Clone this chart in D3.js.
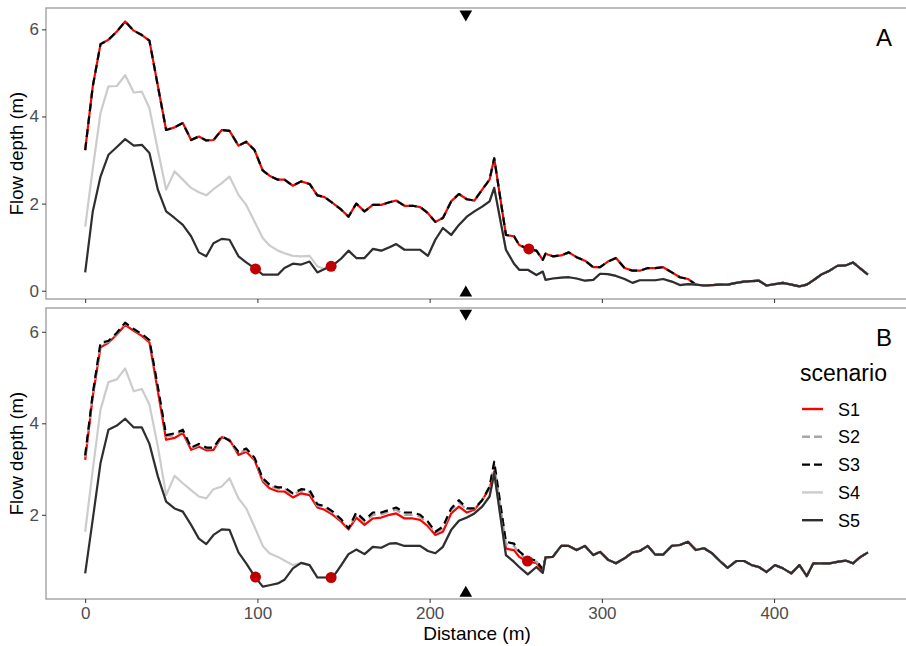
<!DOCTYPE html>
<html>
<head>
<meta charset="utf-8">
<script src="https://cdn.jsdelivr.net/npm/d3@7"></script>
<style>
  body { margin: 0; background: #fff; }
  svg text { font-family: "Liberation Sans", Arial, sans-serif; }
</style>
</head>
<body>
<div id="chart"></div>
<script>
// distance along the profile (m), shared by every series
const dist = [
  0, 4.4, 8.9, 13.5, 18.4, 23.2, 28.2, 32.9, 37.3, 42.2,
  47, 51.9, 56.7, 61.5, 66, 70.3, 74.5, 79.3, 83.8, 89,
  93.5, 98.3, 103.1, 107, 111.9, 115.7, 120.6, 125.4, 130.3, 134.8,
  139, 143.8, 148.7, 152.9, 157.4, 162.2, 167, 171.9, 176.7, 180.6,
  185.4, 190.2, 194.5, 199, 203.3, 207.7, 212.5, 217, 221.6, 226,
  230.5, 234.8, 237.5, 244.3, 249, 252, 257, 262, 265.7, 267.3,
  271.5, 276.4, 280.8, 285.3, 290.2, 295, 299, 303.5, 308.2, 313.2,
  317.8, 322, 326.7, 331, 335.6, 340.6, 345.3, 350, 354.6, 359.3,
  364, 368.5, 373, 378, 382.6, 387, 391.2, 395.6, 400.5, 405.1,
  410, 414.7, 419, 422.8, 427.4, 432.2, 436.7, 441.5, 445.8, 449.8,
  454.5
];

// Panel A
const aS1 = [
  3.23, 4.69, 5.66, 5.76, 5.95, 6.18, 5.97, 5.87, 5.74, 4.70,
  3.69, 3.75, 3.85, 3.46, 3.54, 3.45, 3.46, 3.69, 3.67, 3.33,
  3.42, 3.23, 2.76, 2.64, 2.55, 2.55, 2.41, 2.51, 2.45, 2.19,
  2.15, 2.01, 1.86, 1.70, 2.00, 1.82, 1.97, 1.97, 2.03, 2.07,
  1.95, 1.95, 1.92, 1.78, 1.58, 1.67, 2.05, 2.22, 2.10, 2.07,
  2.32, 2.55, 3.04, 1.28, 1.25, 1.05, 0.96, 0.92, 0.71, 0.85,
  0.79, 0.81, 0.88, 0.77, 0.69, 0.54, 0.54, 0.67, 0.75, 0.52,
  0.46, 0.46, 0.52, 0.52, 0.54, 0.42, 0.31, 0.27, 0.14, 0.12,
  0.13, 0.14, 0.14, 0.18, 0.21, 0.22, 0.23, 0.12, 0.15, 0.18,
  0.14, 0.10, 0.14, 0.24, 0.37, 0.46, 0.57, 0.58, 0.65, 0.52,
  0.37
];
const aS5 = [
  0.42, 1.82, 2.62, 3.12, 3.30, 3.48, 3.33, 3.35, 3.16, 2.32,
  1.82, 1.67, 1.51, 1.25, 0.88, 0.79, 1.09, 1.19, 1.17, 0.79,
  0.65, 0.52, 0.37, 0.37, 0.37, 0.52, 0.62, 0.60, 0.67, 0.42,
  0.50, 0.58, 0.74, 0.92, 0.75, 0.75, 0.96, 0.92, 1.00, 1.07,
  0.94, 0.94, 0.94, 0.80, 1.17, 1.44, 1.28, 1.51, 1.70, 1.82,
  1.93, 2.05, 2.36, 0.94, 0.62, 0.48, 0.48, 0.36, 0.44, 0.25,
  0.28, 0.30, 0.31, 0.28, 0.23, 0.25, 0.39, 0.38, 0.34, 0.27,
  0.18, 0.24, 0.24, 0.24, 0.27, 0.21, 0.13, 0.15, 0.14, 0.12,
  0.13, 0.14, 0.14, 0.18, 0.21, 0.22, 0.23, 0.12, 0.15, 0.18,
  0.14, 0.10, 0.14, 0.24, 0.37, 0.46, 0.57, 0.58, 0.65, 0.52,
  0.37
];
// S4 differs from S5 only over the first 30 stations
const aS4Head = [
  1.47, 2.80, 4.08, 4.69, 4.70, 4.95, 4.55, 4.57, 4.19, 3.23,
  2.32, 2.74, 2.55, 2.36, 2.26, 2.19, 2.33, 2.47, 2.62, 2.20,
  1.97, 1.59, 1.21, 1.04, 0.92, 0.86, 0.80, 0.79, 0.80, 0.56
];

// Panel B (S1-S4 join S5 after the listed heads)
const bS1Head = [
  3.20, 4.59, 5.66, 5.76, 5.94, 6.15, 6.02, 5.91, 5.77, 4.70,
  3.64, 3.68, 3.79, 3.42, 3.49, 3.41, 3.42, 3.70, 3.64, 3.31,
  3.38, 3.20, 2.73, 2.58, 2.51, 2.51, 2.38, 2.47, 2.43, 2.16,
  2.11, 2.00, 1.85, 1.68, 1.94, 1.78, 1.92, 1.94, 2.00, 2.03,
  1.92, 1.92, 1.89, 1.75, 1.56, 1.63, 2.03, 2.18, 2.05, 2.11,
  2.32, 2.58, 2.95, 1.26, 1.23, 1.08, 0.97, 0.95, 0.76, 1.07
];
const bS2Head = [
  3.26, 4.62, 5.72, 5.78, 5.96, 6.18, 6.05, 5.94, 5.80, 4.76,
  3.71, 3.74, 3.83, 3.45, 3.52, 3.45, 3.45, 3.72, 3.63, 3.35,
  3.42, 3.23, 2.77, 2.63, 2.57, 2.57, 2.44, 2.53, 2.50, 2.20,
  2.16, 2.04, 1.88, 1.69, 2.01, 1.84, 2.00, 2.01, 2.07, 2.11,
  2.00, 2.00, 1.96, 1.81, 1.60, 1.70, 2.10, 2.27, 2.11, 2.13,
  2.32, 2.60, 3.10, 1.36, 1.32, 1.15, 1.02, 0.98, 0.78, 1.07
];
const bS3Head = [
  3.30, 4.65, 5.76, 5.80, 5.98, 6.20, 6.06, 5.95, 5.82, 4.80,
  3.74, 3.78, 3.86, 3.47, 3.55, 3.47, 3.47, 3.72, 3.62, 3.38,
  3.45, 3.25, 2.80, 2.66, 2.60, 2.60, 2.47, 2.56, 2.54, 2.23,
  2.19, 2.07, 1.90, 1.70, 2.05, 1.88, 2.05, 2.05, 2.11, 2.16,
  2.05, 2.05, 2.00, 1.85, 1.63, 1.74, 2.14, 2.32, 2.14, 2.14,
  2.32, 2.62, 3.16, 1.41, 1.37, 1.20, 1.05, 1.00, 0.80, 1.07
];
const bS4Head = [
  1.63, 2.98, 4.30, 4.90, 4.96, 5.20, 4.70, 4.75, 4.41, 3.49,
  2.43, 2.85, 2.69, 2.54, 2.40, 2.36, 2.56, 2.62, 2.80, 2.36,
  2.14, 1.74, 1.32, 1.16, 1.08, 1.00, 0.90
];
const bS5 = [
  0.72, 1.90, 3.13, 3.86, 3.95, 4.10, 3.91, 3.91, 3.55, 2.84,
  2.29, 2.14, 2.07, 1.78, 1.48, 1.36, 1.56, 1.68, 1.67, 1.18,
  0.94, 0.66, 0.43, 0.46, 0.50, 0.58, 0.83, 0.95, 0.90, 0.63,
  0.63, 0.63, 0.90, 1.14, 1.24, 1.14, 1.30, 1.28, 1.37, 1.38,
  1.32, 1.32, 1.32, 1.21, 1.16, 1.30, 1.67, 1.87, 1.94, 2.03,
  2.18, 2.40, 2.91, 1.12, 0.97, 0.86, 0.70, 0.86, 0.73, 1.07,
  1.08, 1.32, 1.32, 1.23, 1.32, 1.12, 1.19, 1.02, 0.94, 1.05,
  1.18, 1.21, 1.32, 1.13, 1.13, 1.32, 1.34, 1.41, 1.23, 1.27,
  1.16, 0.99, 0.84, 0.99, 0.99, 0.90, 0.86, 0.75, 0.90, 0.83,
  0.72, 0.90, 0.66, 0.94, 0.94, 0.94, 0.97, 1.00, 0.94, 1.07,
  1.18
];

// red points and section markers
const aDotDist = [98.9, 142.8, 257.6];
const aDotDepth = [0.50, 0.56, 0.96];
const bDotDist = [98.9, 142.8, 256.8];
const bDotDepth = [0.64, 0.63, 0.99];
const markerDist = 221;

const scenarios = ["S1", "S2", "S3", "S4", "S5"];
const colors = ["#ff0000", "#a6a6a6", "#000000", "#cccccc", "#2e2e2e"];
const dashes = [null, "8,5", "8,5", null, null];
const xTicks = [0, 100, 200, 300, 400];

const withTail = (head, full) => head.concat(full.slice(head.length));

const panels = [
  {
    label: "A", top: 8, bottom: 299, domain: [-0.19, 6.49], yTicks: [0, 2, 4, 6],
    series: [aS1, aS1, aS1, withTail(aS4Head, aS5), aS5],
    dotX: aDotDist, dotY: aDotDepth, markUp: -0.05, markDown: 6.35
  },
  {
    label: "B", top: 308, bottom: 599, domain: [0.16, 6.52], yTicks: [2, 4, 6],
    series: [withTail(bS1Head, bS5), withTail(bS2Head, bS5), withTail(bS3Head, bS5),
             withTail(bS4Head, bS5), bS5],
    dotX: bDotDist, dotY: bDotDepth, markUp: 0.29, markDown: 6.40
  }
];

const width = 906, height = 646;
const left = 46, right = 908;

const svg = d3.select("#chart").append("svg")
  .attr("width", width).attr("height", height);

const x = d3.scaleLinear().domain([-22.75, 477.75]).range([left, right]);

panels.forEach((p, pi) => {
  const y = d3.scaleLinear().domain(p.domain).range([p.bottom, p.top]);
  const g = svg.append("g");

  const clipId = "clip" + pi;
  svg.append("clipPath").attr("id", clipId)
    .append("rect").attr("x", left).attr("y", p.top)
    .attr("width", right - left).attr("height", p.bottom - p.top);

  const plot = g.append("g").attr("clip-path", `url(#${clipId})`);

  const line = d3.line()
    .x((d, i) => x(dist[i]))
    .y(d => y(d));

  p.series.forEach((vals, si) => {
    plot.append("path")
      .datum(vals)
      .attr("d", line)
      .attr("fill", "none")
      .attr("stroke", colors[si])
      .attr("stroke-width", 2.2)
      .attr("stroke-linejoin", "round")
      .attr("stroke-dasharray", dashes[si]);
  });

  plot.selectAll("circle.dot")
    .data(p.dotX)
    .enter().append("circle")
    .attr("class", "dot")
    .attr("cx", d => x(d))
    .attr("cy", (d, i) => y(p.dotY[i]))
    .attr("r", 5.5)
    .attr("fill", "#c00000");

  // section markers
  const tri = d3.symbol().type(d3.symbolTriangle).size(70);
  plot.append("path").attr("d", tri)
    .attr("transform", `translate(${x(markerDist)},${y(p.markUp)})`)
    .attr("fill", "#000");
  plot.append("path").attr("d", tri)
    .attr("transform", `translate(${x(markerDist)},${y(p.markDown)}) rotate(180)`)
    .attr("fill", "#000");

  // border
  g.append("rect")
    .attr("x", left).attr("y", p.top)
    .attr("width", right - left).attr("height", p.bottom - p.top)
    .attr("fill", "none").attr("stroke", "#9a9a9a").attr("stroke-width", 1.3);

  // y axis
  const ya = g.append("g").attr("transform", `translate(${left},0)`)
    .call(d3.axisLeft(y).tickValues(p.yTicks).tickSize(4).tickPadding(3).tickFormat(d3.format("d")));
  ya.select(".domain").remove();
  ya.selectAll(".tick line").attr("stroke", "#333");
  ya.selectAll(".tick text").attr("fill", "#4d4d4d").style("font-size", "17px");

  // x axis
  const xa = g.append("g").attr("transform", `translate(0,${p.bottom})`)
    .call(d3.axisBottom(x).tickValues(xTicks).tickSize(4).tickPadding(4)
      .tickFormat(pi === panels.length - 1 ? d3.format("d") : () => ""));
  xa.select(".domain").remove();
  xa.selectAll(".tick line").attr("stroke", "#333");
  xa.selectAll(".tick text").attr("fill", "#4d4d4d").style("font-size", "17px");

  // panel tag
  g.append("text")
    .attr("x", 884).attr("y", p.top + 38)
    .attr("text-anchor", "middle")
    .style("font-size", "24px")
    .text(p.label);

  // y title
  g.append("text")
    .attr("transform", `translate(23,${(p.top + p.bottom) / 2}) rotate(-90)`)
    .attr("text-anchor", "middle")
    .style("font-size", "18.5px")
    .text("Flow depth (m)");
});

svg.append("text")
  .attr("x", (left + right) / 2).attr("y", 640)
  .attr("text-anchor", "middle")
  .style("font-size", "19px")
  .text("Distance (m)");

// legend
const legend = svg.append("g").attr("transform", "translate(800,0)");
legend.append("text").attr("x", 0).attr("y", 381)
  .style("font-size", "23px").text("scenario");
scenarios.forEach((s, i) => {
  const yy = 409 + i * 27.8;
  legend.append("line")
    .attr("x1", 2).attr("x2", 23).attr("y1", yy).attr("y2", yy)
    .attr("stroke", colors[i]).attr("stroke-width", 2.4)
    .attr("stroke-dasharray", dashes[i] ? "8,4" : null);
  legend.append("text").attr("x", 38).attr("y", yy + 6.5)
    .style("font-size", "18px").text(s);
});
</script>
</body>
</html>
